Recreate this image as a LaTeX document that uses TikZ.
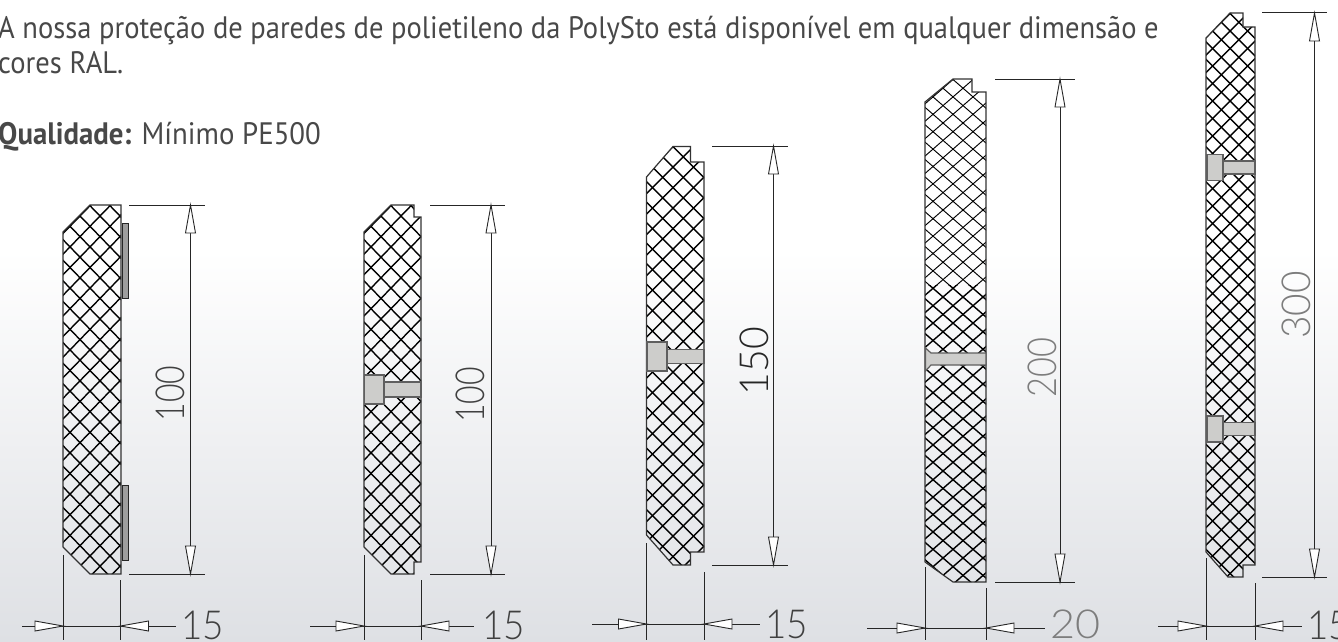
\documentclass[tikz,border=0pt]{standalone}
\usepackage{fontspec}
\setmainfont{PT Sans}
\newfontfamily\cadfont{Lato Light}
\usetikzlibrary{patterns}
\definecolor{bgbottom}{RGB}{222,224,228}
\definecolor{boltfill}{RGB}{205,205,203}
\definecolor{boltline}{RGB}{95,95,95}
\definecolor{cadgrey}{RGB}{125,125,125}
\definecolor{bodytext}{RGB}{72,72,72}
\newcommand{\hatchgrid}[5]{% cx cy dx dy style
  \foreach \k in {-60,...,60}{
    \draw[#5] ({#1+\k*#3-50*#3},{#2-50*#4}) -- ({#1+\k*#3+50*#3},{#2+50*#4});
    \draw[#5] ({#1+\k*#3-50*#3},{#2+50*#4}) -- ({#1+\k*#3+50*#3},{#2-50*#4});
  }}
\newcommand{\cadtext}[5]{% x y text color xscale, vertical
  \node[cadnum,text=#4,rotate=90] at (#1,#2) {\scalebox{#5}[1]{#3}};}
\newcommand{\cadhtext}[5]{%
  \node[cadnum,text=#4,anchor=west] at (#1,#2) {\scalebox{#5}[1]{#3}};}
% x, ytop, ybottom, x0, x1 of the extension lines
\newcommand{\vdim}[5]{%
  \draw[dimline] (#4,#2) -- (#5,#2);
  \draw[dimline] (#4,#3) -- (#5,#3);
  \draw[dimline] (#1,#2) -- (#1,#3);
  \draw[dimtip] (#1,#2) -- ({#1-5},{#2+28}) -- ({#1+5},{#2+28}) -- cycle;
  \draw[dimtip] (#1,#3) -- ({#1-5},{#3-28}) -- ({#1+5},{#3-28}) -- cycle;}
% xl, xr, y, linestart, lineend, ytopleft, ytopright
\newcommand{\hdim}[7]{%
  \draw[dimline] (#1,#6) -- (#1,640);
  \draw[dimline] (#2,#7) -- (#2,640);
  \draw[dimline] (#4,#3) -- (#5,#3);
  \draw[dimtip] (#1,#3) -- ({#1-28},{#3-5}) -- ({#1-28},{#3+5}) -- cycle;
  \draw[dimtip] (#2,#3) -- ({#2+28},{#3-5}) -- ({#2+28},{#3+5}) -- cycle;}
\newcommand{\bolt}[6]{% x0 xh x1 ycentre headhalf shankhalf
  \draw[boltstyle] (#1,{#4-#5}) rectangle (#2,{#4+#5});
  \draw[boltstyle] (#2,{#4-#6}) rectangle (#3,{#4+#6});}
\newcommand{\bodyline}[2][0.92]{\scalebox{#1}[1]{#2}}
\tikzset{
  x=1pt,y=-1pt,
  dimline/.style={line width=1pt,draw=black!85},
  dimtip/.style={line width=0.9pt,draw=black!85,fill=white,line join=miter},
  outline/.style={line width=1.2pt,draw=black!80,line join=miter},
  hatchb/.style={line width=1.4pt,draw=black},
  hatcht/.style={line width=0.95pt,draw=black},
  boltstyle/.style={line width=1.2pt,draw=boltline,fill=boltfill},
  stripstyle/.style={line width=1pt,draw=black!85,fill=black!38},
  cadnum/.style={font=\cadfont\fontsize{40}{40}\selectfont,inner sep=0pt},
  para/.style={font=\fontsize{31}{36}\selectfont,anchor=base west,inner sep=0pt,text=bodytext}
}
\begin{document}
\begin{tikzpicture}
\useasboundingbox (0,0) rectangle (1338,642);
\fill[white] (0,0) rectangle (1338,250);
\shade[top color=white,bottom color=bgbottom] (0,250) rectangle (1338,642);
% text
\node[para] (line1) at (-2,39) {\bodyline{A nossa proteção de paredes de polietileno da PolySto está disponível em qualquer dimensão e}};
\node[para] (line2) at (-2,74) {\bodyline{cores RAL.}};
\node[para] (line3) at (-2,144) {\bodyline[0.93]{\textbf{Qualidade:} Mínimo PE500}};
% panel 1
\begin{scope}
\clip (63,232) -- (90,205) -- (121,205) -- (121,574) -- (90,574) -- (63,547) -- cycle;
\hatchgrid{90}{205.7}{20}{20.6}{hatchb}
\end{scope}
\draw[outline] (63,547) -- (63,232) -- (90,205) -- (121,205) -- (121,574) -- (90,574) -- (63,547);
\draw[stripstyle] (122.5,223) rectangle (128,298);
\draw[stripstyle] (122.5,485) rectangle (128,560);
\vdim{190.5}{205}{574}{129}{205}
\cadtext{170}{393.5}{100}{black!75}{0.8}
\hdim{63}{120.5}{626}{22}{176}{555}{580}
\cadhtext{181}{625}{15}{black!75}{0.92}
% panel 2
\begin{scope}
\clip (364,232) -- (391,205) -- (414,205) -- (414,217) -- (421,217) -- (421,562) -- (414,562) -- (414,574) -- (391,574) -- (364,547) -- cycle;
\hatchgrid{391}{205.7}{20}{20.6}{hatchb}
\end{scope}
\draw[outline] (364,547) -- (364,232) -- (391,205) -- (414,205) -- (414,217) -- (421,217) -- (421,562) -- (414,562) -- (414,574) -- (391,574) -- (364,547);
\bolt{364.5}{384}{421}{389.5}{14.5}{7.5}
\vdim{491}{205}{574}{430}{505}
\cadtext{470}{395}{100}{black!75}{0.8}
\hdim{364}{421}{626}{310}{474}{555}{580}
\cadhtext{482}{625}{15}{black!75}{0.92}
% panel 3
\begin{scope}
\clip (646.5,177) -- (673,146.5) -- (690.5,146.5) -- (690.5,162) -- (704,162) -- (704,552) -- (690.5,552) -- (690.5,565) -- (673,565) -- (646.5,535) -- cycle;
\hatchgrid{673}{146.7}{20.5}{20.5}{hatchb}
\end{scope}
\draw[outline] (646.5,535) -- (646.5,177) -- (673,146.5) -- (690.5,146.5) -- (690.5,162) -- (704,162) -- (704,552) -- (690.5,552) -- (690.5,565) -- (673,565) -- (646.5,535);
\bolt{647}{667}{704}{356.5}{14.5}{7}
\vdim{773.5}{146}{565}{712}{788}
\cadtext{754}{361}{150}{black!85}{0.98}
\hdim{646.5}{704}{624}{592}{760}{543}{572}
\cadhtext{765}{624}{15}{black!75}{0.92}
% panel 4
\begin{scope}
\clip (925,102) -- (953,79) -- (972,79) -- (972,92) -- (986,92) -- (986,582) -- (953,582) -- (925,562) -- cycle;
\clip (900,60) rectangle (1000,285);
\hatchgrid{953}{79.5}{20}{17.4}{hatcht}
\end{scope}
\begin{scope}
\clip (925,102) -- (953,79) -- (972,79) -- (972,92) -- (986,92) -- (986,582) -- (953,582) -- (925,562) -- cycle;
\clip (900,285) rectangle (1000,600);
\hatchgrid{953}{79.5}{20}{17.4}{hatchb}
\end{scope}
\draw[outline] (925,562) -- (925,102) -- (953,79) -- (972,79) -- (972,92) -- (986,92) -- (986,582) -- (953,582) -- (925,562);
\draw[boltstyle] (925.5,348) -- (931,353) -- (986,353) -- (986,365) -- (931,365) -- (925.5,371) -- cycle;
\vdim{1060}{79}{582}{995}{1075}
\cadtext{1042}{367.5}{200}{cadgrey}{0.86}
\hdim{925}{986}{628}{867}{1045}{567}{588}
\cadhtext{1050}{624}{20}{cadgrey}{1.08}
% panel 5
\begin{scope}
\clip (1206,38) -- (1230,13) -- (1243,13) -- (1243,27) -- (1255,27) -- (1255,565) -- (1243,565) -- (1243,577) -- (1228,577) -- (1206,552) -- cycle;
\hatchgrid{1230}{13.5}{17.5}{17.5}{hatchb}
\end{scope}
\draw[outline] (1206,552) -- (1206,38) -- (1230,13) -- (1243,13) -- (1243,27) -- (1255,27) -- (1255,565) -- (1243,565) -- (1243,577) -- (1228,577) -- (1206,552);
\bolt{1207}{1223}{1255}{167.5}{13}{6.5}
\bolt{1207}{1223}{1255}{429}{13}{6.5}
\vdim{1314.5}{13}{577}{1262}{1327}
\cadtext{1296}{305}{300}{cadgrey}{0.97}
\hdim{1206}{1255}{626}{1158}{1302}{558}{583}
\cadhtext{1307}{625}{15}{black!75}{0.92}
\end{tikzpicture}
\end{document}
